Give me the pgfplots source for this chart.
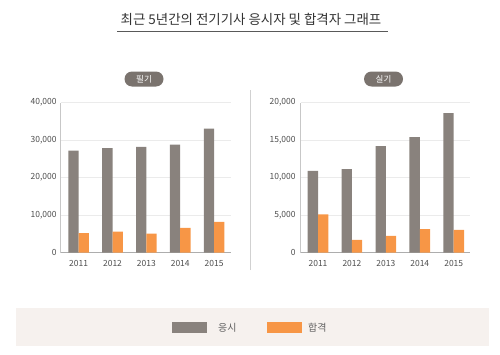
\documentclass[border=0pt]{standalone}
\usepackage{pgfplots}
\pgfplotsset{compat=1.18}
\usepackage{fontspec}
\setmainfont{Noto Sans CJK KR}
\definecolor{bargray}{HTML}{89827D}
\definecolor{barorange}{HTML}{F79646}
\definecolor{pillgray}{HTML}{7A736E}
\definecolor{legbg}{HTML}{F6F1EE}
\definecolor{ticktext}{HTML}{4D4D4D}
\definecolor{gridc}{HTML}{EBEBEB}
\pgfplotsset{
  mychart/.style={
    scale only axis,
    anchor=south west,
    height=150bp,
    ymin=0,
    axis x line=bottom, axis y line=left,
    axis line style={-},
    x axis line style={draw=black!32, line width=1.3bp},
    y axis line style={draw=black!22, line width=0.8bp},
    ymajorgrids, grid style={draw=gridc, line width=0.8bp},
    major tick length=0pt,
    xtick={0,1,2,3,4},
    xticklabels={2011,2012,2013,2014,2015},
    ybar=0pt, bar width=10.3bp,
    scaled y ticks=false,
    /pgf/number format/.cd, 1000 sep={,}, assume math mode=true,
    /pgfplots/.cd,
    tick label style={font=\fontsize{8.5}{8.5}\selectfont, text=ticktext},
    xticklabel style={inner sep=0pt, yshift=-7.3bp},
  }
}
\begin{document}
\begin{tikzpicture}[x=1bp,y=1bp]
\path[use as bounding box] (0,0) rectangle (500,354);
% title
\node[font=\fontsize{13.5}{13.5}\selectfont, text=black!80] at (251,335) {최근 5년간의 전기기사 응시자 및 합격자 그래프};
\draw[draw=black!65, line width=1bp] (117,322.3) -- (388,322.3);
% separator
\draw[draw=black!18, line width=0.8bp] (250.3,84) -- (250.3,264);
% pills
\node[fill=pillgray, rounded corners=7.5bp, minimum width=39bp, minimum height=15bp, inner sep=0pt, text=white, font=\fontsize{8.5}{8.5}\selectfont] at (144,275) {필기};
\node[fill=pillgray, rounded corners=7.5bp, minimum width=39bp, minimum height=15bp, inner sep=0pt, text=white, font=\fontsize{8.5}{8.5}\selectfont] at (383.5,275) {실기};
% left chart
\begin{axis}[mychart, at={(60.7bp,101.3bp)}, width=170.3bp,
  xmin=-0.53, xmax=4.5, ymax=40000,
  ytick={0,10000,20000,30000,40000},
  yticklabel style={inner sep=0pt, xshift=-4bp}]
\addplot[fill=bargray, draw=none] coordinates {(0,27200) (1,27900) (2,28200) (3,28800) (4,33100)};
\addplot[fill=barorange, draw=none] coordinates {(0,5200) (1,5600) (2,5100) (3,6600) (4,8200)};
\end{axis}
% right chart
\begin{axis}[mychart, at={(300.7bp,101.3bp)}, width=169.3bp,
  xmin=-0.51, xmax=4.48, ymax=20000,
  ytick={0,5000,10000,15000,20000},
  yticklabel style={inner sep=0pt, xshift=-5bp}]
\addplot[fill=bargray, draw=none] coordinates {(0,10900) (1,11150) (2,14200) (3,15400) (4,18600)};
\addplot[fill=barorange, draw=none] coordinates {(0,5100) (1,1700) (2,2250) (3,3150) (4,3050)};
\end{axis}
% legend
\fill[legbg] (16,8.3) rectangle (489,46.3);
\fill[bargray] (172.3,21.3) rectangle (207.3,32);
\node[anchor=west, inner sep=0pt, text=black!62, font=\fontsize{10}{10}\selectfont] at (218,26.7) {응시};
\fill[barorange] (266.7,21.3) rectangle (301.7,32);
\node[anchor=west, inner sep=0pt, text=black!62, font=\fontsize{10}{10}\selectfont] at (308,26.7) {합격};
\end{tikzpicture}
\end{document}
